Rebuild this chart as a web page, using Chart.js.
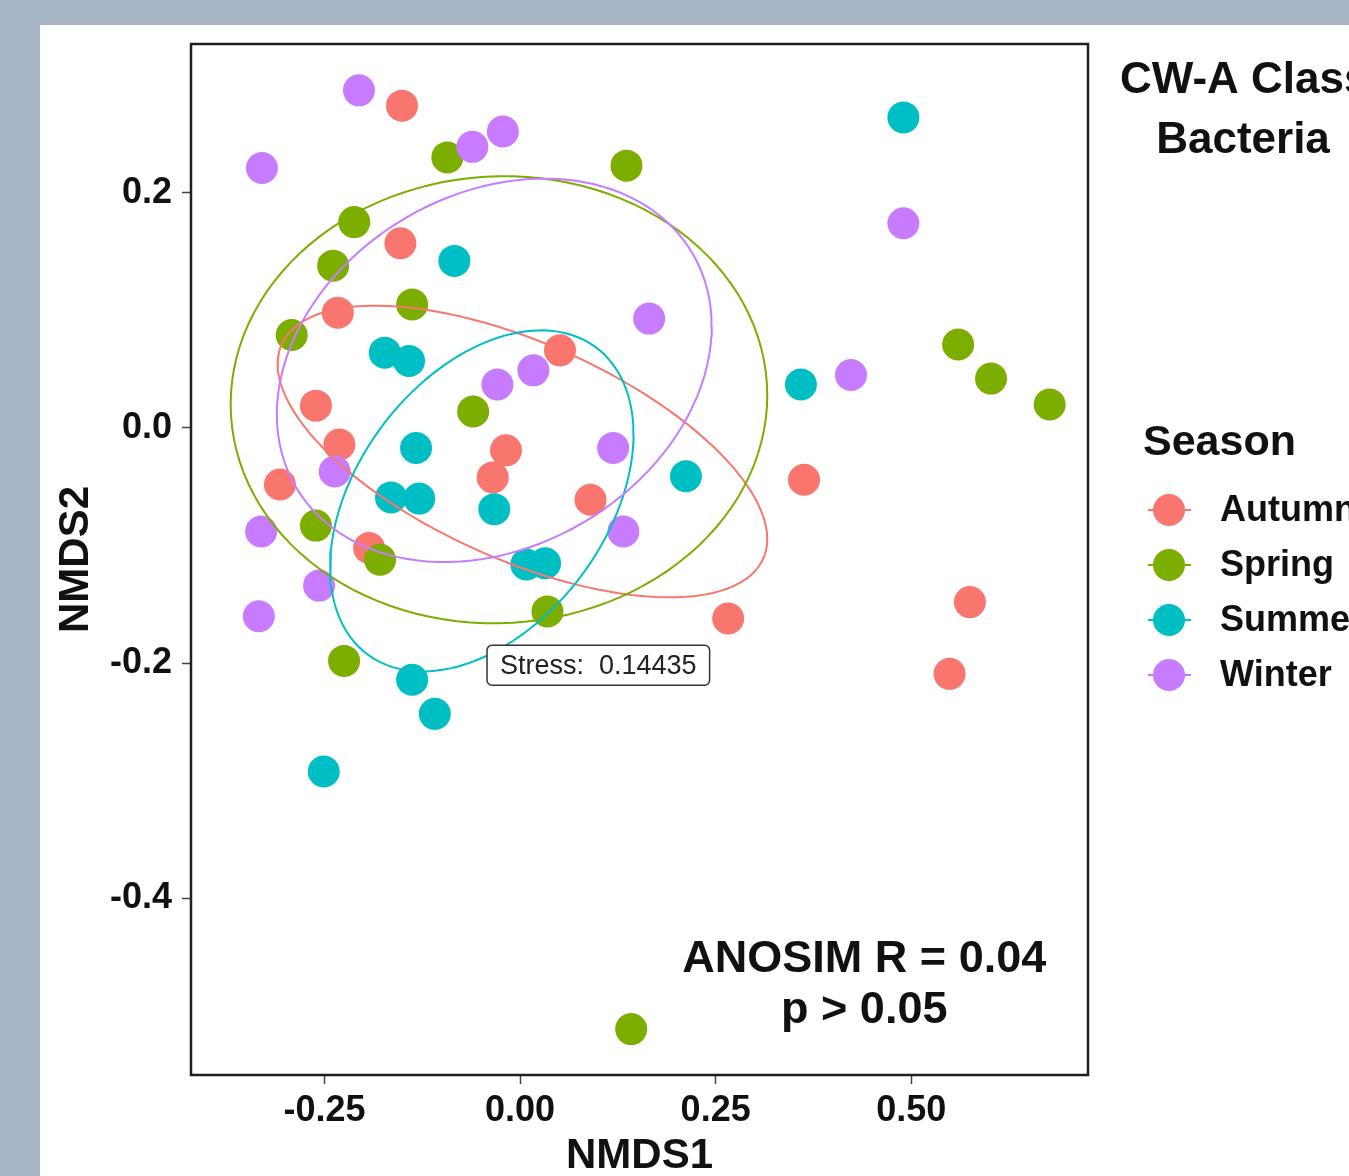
<!DOCTYPE html>
<html>
<head>
<meta charset="utf-8">
<title>CW-A Class Bacteria NMDS</title>
<script src="https://cdn.jsdelivr.net/npm/chart.js@4.4.0/dist/chart.umd.min.js"></script>
<style>
  html, body { margin: 0; padding: 0; background: #a9b6c8; }
  #nmds { display: block; }
</style>
</head>
<body>
<canvas id="nmds" width="1349" height="1176"></canvas>
<script>
const seasons = ["Autumn", "Spring", "Summer", "Winter"];
const seasonColors = ["#F8766D", "#7CAE00", "#00BFC4", "#C77CFF"];

const autumnX = [-0.151, -0.153, -0.233, 0.051, -0.261, -0.231, -0.018, -0.035, -0.307, 0.090, -0.193, 0.363, 0.266, 0.575, 0.549];
const autumnY = [0.274, 0.157, 0.098, 0.066, 0.019, -0.014, -0.019, -0.042, -0.048, -0.061, -0.102, -0.044, -0.162, -0.148, -0.209];

const springX = [-0.093, 0.136, -0.212, -0.239, -0.138, -0.292, -0.060, -0.261, -0.179, 0.035, -0.225, 0.560, 0.602, 0.677, 0.142];
const springY = [0.230, 0.223, 0.175, 0.138, 0.105, 0.079, 0.014, -0.083, -0.112, -0.156, -0.198, 0.071, 0.042, 0.020, -0.511];

const summerX = [0.490, -0.084, -0.173, -0.142, 0.359, -0.133, -0.165, -0.129, -0.033, 0.212, 0.008, 0.032, -0.138, -0.109, -0.251];
const summerY = [0.264, 0.142, 0.064, 0.057, 0.037, -0.017, -0.059, -0.060, -0.069, -0.041, -0.116, -0.115, -0.214, -0.243, -0.292];

const winterX = [-0.206, -0.330, -0.061, -0.022, 0.490, 0.165, 0.423, 0.017, -0.029, 0.119, -0.237, -0.331, 0.132, -0.257, -0.334];
const winterY = [0.287, 0.221, 0.239, 0.252, 0.174, 0.093, 0.045, 0.049, 0.037, -0.017, -0.037, -0.088, -0.088, -0.134, -0.160];

// group ellipses (centre, x / y half extents, correlation), per season
const ellipseCX = [0.003, -0.027, -0.049, -0.033];
const ellipseCY = [-0.020, 0.024, -0.062, 0.049];
const ellipseRX = [0.313, 0.343, 0.194, 0.278];
const ellipseRY = [0.124, 0.190, 0.145, 0.163];
const ellipseRho = [-0.60, 0.02, 0.39, 0.23];

const xTicks = [-0.25, 0, 0.25, 0.5];
const yTicks = [-0.4, -0.2, 0, 0.2];

const stressText = "Stress:  0.14435";
const anosimLines = ["ANOSIM R = 0.04", "p > 0.05"];
const titleLines = ["CW-A Class", "Bacteria"];

const FONT = "'Liberation Sans', Arial, Helvetica, sans-serif";

const seriesX = [autumnX, springX, summerX, winterX];
const seriesY = [autumnY, springY, summerY, winterY];

function ellipsePoints(i) {
  const rx = ellipseRX[i], ry = ellipseRY[i], rho = ellipseRho[i];
  const pts = [];
  const segs = 120;
  for (let k = 0; k <= segs; k++) {
    const t = k * 2 * Math.PI / segs;
    pts.push({
      x: ellipseCX[i] + rx * Math.cos(t),
      y: ellipseCY[i] + ry * (rho * Math.cos(t) + Math.sqrt(1 - rho * rho) * Math.sin(t))
    });
  }
  return pts;
}

const datasets = [];
seasons.forEach((s, i) => {
  datasets.push({
    label: s,
    data: seriesX[i].map((x, j) => ({ x, y: seriesY[i][j] })),
    backgroundColor: seasonColors[i],
    borderWidth: 0,
    pointRadius: 16,
    pointHoverRadius: 16,
    order: 10 - i
  });
});
seasons.forEach((s, i) => {
  datasets.push({
    label: s + " ellipse",
    data: ellipsePoints(i),
    showLine: true,
    borderColor: seasonColors[i],
    borderWidth: 2,
    pointRadius: 0,
    pointHoverRadius: 0,
    fill: false,
    tension: 0,
    order: 4 - i
  });
});

const decor = {
  id: "decor",
  beforeDraw(chart) {
    const ctx = chart.ctx;
    ctx.save();
    ctx.fillStyle = "#a9b6c8";
    ctx.fillRect(0, 0, chart.width, chart.height);
    ctx.fillStyle = "#ffffff";
    ctx.fillRect(40, 25, chart.width - 40, chart.height - 25);
    ctx.restore();
  },
  afterDraw(chart) {
    const ctx = chart.ctx;
    const { left, top, right, bottom } = chart.chartArea;
    const xs = chart.scales.x, ys = chart.scales.y;
    ctx.save();

    // panel border
    ctx.strokeStyle = "#1e1e1e";
    ctx.lineWidth = 2.5;
    ctx.strokeRect(left, top, right - left, bottom - top);

    // stress label
    const sx = xs.getPixelForValue(0.1), sy = ys.getPixelForValue(-0.2) + 2;
    ctx.font = "27px " + FONT;
    const tw = ctx.measureText(stressText).width;
    const bw = tw + 26, bh = 40;
    ctx.beginPath();
    ctx.roundRect(sx - bw / 2, sy - bh / 2, bw, bh, 5);
    ctx.fillStyle = "#ffffff";
    ctx.fill();
    ctx.strokeStyle = "#333333";
    ctx.lineWidth = 1.5;
    ctx.stroke();
    ctx.fillStyle = "#222222";
    ctx.textAlign = "center";
    ctx.textBaseline = "middle";
    ctx.fillText(stressText, sx, sy + 1);

    // ANOSIM note
    const ax = xs.getPixelForValue(0.44), ay = ys.getPixelForValue(-0.47);
    ctx.font = "bold 45px " + FONT;
    ctx.fillStyle = "#111111";
    ctx.textBaseline = "alphabetic";
    ctx.fillText(anosimLines[0], ax, ay - 9);
    ctx.fillText(anosimLines[1], ax, ay + 42);

    // title
    ctx.font = "bold 44px " + FONT;
    ctx.textAlign = "left";
    ctx.fillText(titleLines[0], 1120, 93);
    ctx.textAlign = "center";
    ctx.fillText(titleLines[1], 1243, 153);

    // legend
    ctx.textAlign = "left";
    ctx.font = "bold 43px " + FONT;
    ctx.fillText("Season", 1143, 455);
    ctx.font = "bold 36px " + FONT;
    seasons.forEach((s, i) => {
      const ly = 510 + i * 55;
      ctx.strokeStyle = seasonColors[i];
      ctx.lineWidth = 2;
      ctx.beginPath();
      ctx.moveTo(1148, ly);
      ctx.lineTo(1191, ly);
      ctx.stroke();
      ctx.fillStyle = seasonColors[i];
      ctx.beginPath();
      ctx.arc(1169, ly, 16, 0, Math.PI * 2);
      ctx.fill();
      ctx.fillStyle = "#111111";
      ctx.textBaseline = "middle";
      ctx.fillText(s, 1220, ly + 1);
    });
    ctx.restore();
  }
};

new Chart(document.getElementById("nmds"), {
  type: "scatter",
  data: { datasets },
  options: {
    responsive: false,
    animation: false,
    devicePixelRatio: 1,
    layout: { padding: { left: 0, top: 44, right: 261, bottom: 0 } },
    plugins: {
      legend: { display: false },
      tooltip: { enabled: false }
    },
    scales: {
      x: {
        type: "linear",
        min: -0.4207,
        max: 0.726,
        afterBuildTicks: scale => { scale.ticks = xTicks.map(v => ({ value: v })); },
        afterFit: scale => { scale.height = 101; },
        ticks: {
          callback: v => v.toFixed(2),
          color: "#111111",
          padding: 5,
          font: { family: FONT, size: 36, weight: "bold", lineHeight: 1.2 }
        },
        grid: { drawOnChartArea: false, drawTicks: true, tickLength: 9, tickColor: "#444444", tickWidth: 1.5 },
        border: { display: false },
        title: {
          display: true,
          text: "NMDS1",
          color: "#111111",
          padding: { top: 0, bottom: 0 },
          font: { family: FONT, size: 42, weight: "bold", lineHeight: 0.95 }
        }
      },
      y: {
        type: "linear",
        min: -0.55,
        max: 0.3264,
        afterBuildTicks: scale => { scale.ticks = yTicks.map(v => ({ value: v })); },
        afterFit: scale => { scale.width = 191; },
        ticks: {
          callback: v => v.toFixed(1),
          color: "#111111",
          padding: 10,
          font: { family: FONT, size: 36, weight: "bold" }
        },
        grid: { drawOnChartArea: false, drawTicks: true, tickLength: 9, tickColor: "#444444", tickWidth: 1.5 },
        border: { display: false },
        title: {
          display: true,
          text: "NMDS2",
          color: "#111111",
          padding: { top: 53, bottom: 0 },
          font: { family: FONT, size: 42, weight: "bold", lineHeight: 1.1 }
        }
      }
    }
  },
  plugins: [decor]
});
</script>
</body>
</html>
